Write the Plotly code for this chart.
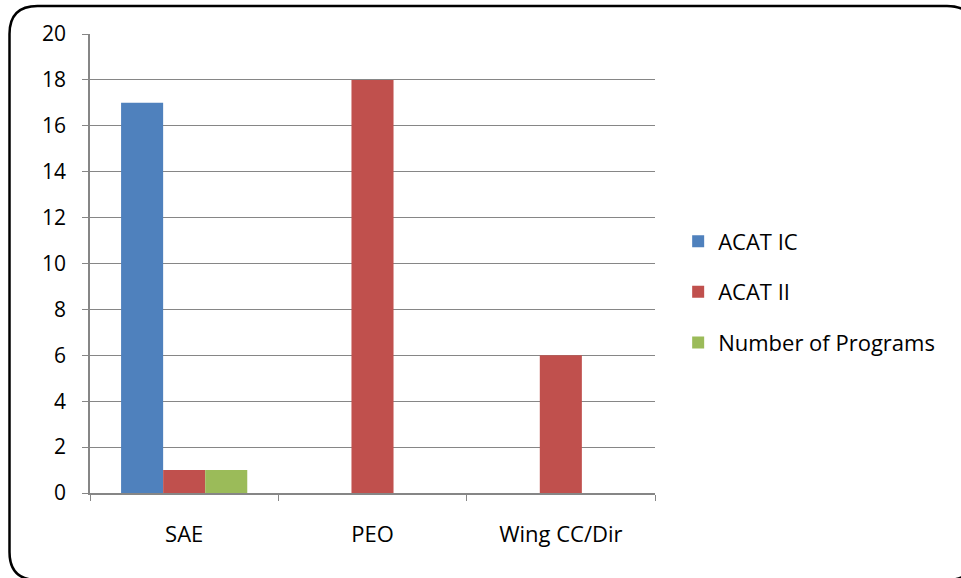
import plotly.graph_objects as go

categories = ["SAE", "PEO", "Wing CC/Dir"]
acat_ic = [17, 0, 0]
acat_ii = [1, 18, 6]
num_programs = [1, 0, 0]
series_names = ["ACAT IC", "ACAT II", "Number of Programs"]
colors = ["#4F81BD", "#C0504D", "#9BBB59"]

W, H = 961, 578
L, R, T, B = 90, 306, 34, 85
pw, ph = W - L - R, H - T - B

fig = go.Figure()
for i, (name, vals) in enumerate(zip(series_names, [acat_ic, acat_ii, num_programs])):
    fig.add_trace(go.Bar(x=categories, y=vals, name=name, marker_color=colors[i],
                         marker_line_width=0, legendgroup=name))

def px(x):
    return (x - L) / pw
def py(y):
    return (H - B - y) / ph

x0, x1 = px(9.5), px(975)
y0, y1 = py(6), py(580)
rx, ry = 28 / pw, 28 / ph
path = (f"M {x0+rx},{y0} L {x1-rx},{y0} Q {x1},{y0} {x1},{y0-ry} "
        f"L {x1},{y1+ry} Q {x1},{y1} {x1-rx},{y1} L {x0+rx},{y1} "
        f"Q {x0},{y1} {x0},{y1+ry} L {x0},{y0-ry} Q {x0},{y0} {x0+rx},{y0} Z")
fig.add_shape(type="path", path=path, xref="paper", yref="paper",
              line=dict(color="black", width=2.5), layer="above")

FS = 21
fig.update_layout(
    width=W, height=H,
    margin=dict(l=L, r=R, t=T, b=B),
    paper_bgcolor="white", plot_bgcolor="white",
    barmode="group", bargap=0.33, bargroupgap=0,
    font=dict(family="Open Sans, Liberation Sans, sans-serif", size=FS, color="black"),
    legend=dict(x=1.041, xanchor="left", xref="paper", y=0.438, yanchor="middle",
                font=dict(size=22), tracegroupgap=19, itemwidth=30),
    showlegend=True,
)
fig.update_xaxes(showline=True, linecolor="#868686", linewidth=1.5,
                 ticks="outside", tickson="boundaries", ticklen=6, tickcolor="#868686",
                 showgrid=False, tickfont=dict(size=22), ticklabelstandoff=21)
fig.update_yaxes(range=[0, 20], dtick=2, showline=True, linecolor="#868686", linewidth=1.5,
                 ticks="outside", ticklen=6, tickcolor="#868686",
                 showgrid=True, gridcolor="#868686", gridwidth=1,
                 zeroline=False, tickfont=dict(size=FS), ticklabelstandoff=12)

fig.write_html("out.html", config={"displayModeBar": False},
               post_script="document.body.style.margin='0';document.body.style.overflow='hidden';")
